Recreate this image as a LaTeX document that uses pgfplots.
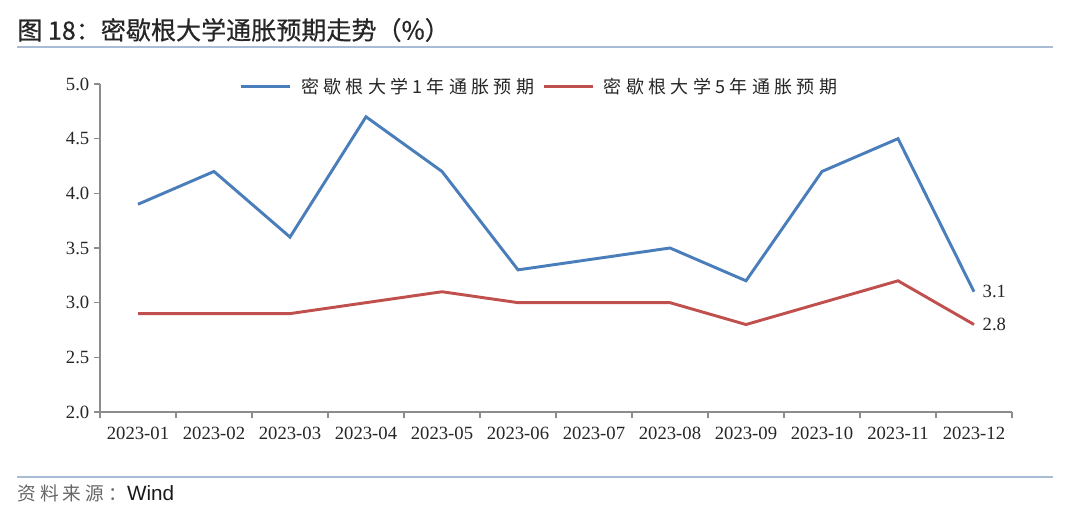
\documentclass[border=0pt]{standalone}
\usepackage{pgfplots}
\pgfplotsset{compat=1.18}
\usepackage{fontspec}
\setmainfont{Liberation Serif}
\newfontfamily\cjk{Noto Sans CJK SC}
\newfontfamily\cjktitle[FakeBold=0.6]{Noto Sans CJK SC}
\newfontfamily\cjkleg[LetterSpace=24]{Noto Sans CJK SC}
\newfontfamily\cjksrc[LetterSpace=22]{Noto Sans CJK SC}
\newfontfamily\sans{Liberation Sans}
\definecolor{myblue}{HTML}{4A7EBB}
\definecolor{myred}{HTML}{C0504D}
\definecolor{axgray}{HTML}{8C8C8C}
\definecolor{rulec}{HTML}{A9BCD6}
\begin{document}
\begin{tikzpicture}[x=0.75pt,y=0.75pt]
\path[use as bounding box] (0,0) rectangle (1069,514);
\node[anchor=west,inner sep=0pt,font=\fontsize{18.8}{21}\cjktitle,text=black!85] at (17,484) {图 18：密歇根大学通胀预期走势（\%）};
\draw[rulec, line width=1.5pt] (17,467) -- (1053,467);
\draw[rulec, line width=1pt] (17,37) -- (1053,37);
\node[anchor=west,inner sep=0pt,font=\fontsize{14}{16}\cjksrc,text=black!60] at (17,21) {资料来源：{\sans\fontsize{15.5}{17}\selectfont\color{black!90}Wind}};
\begin{axis}[at={(75pt,76.5pt)}, anchor=south west, scale only axis,
  width=684pt, height=246pt,
  xmin=-0.5, xmax=11.5, ymin=2, ymax=5,
  axis x line*=bottom, axis y line*=left,
  axis line style={axgray, line width=1.1pt},
  every tick/.style={axgray, line width=1pt},
  tick align=outside, major tick length=4.5pt, minor tick length=4.5pt,
  xtick={0,...,11},
  xticklabels={2023-01,2023-02,2023-03,2023-04,2023-05,2023-06,2023-07,2023-08,2023-09,2023-10,2023-11,2023-12},
  major x tick style={draw=none},
  minor xtick={-0.5,0.5,...,11.5},
  ytick={2,2.5,...,5},
  yticklabel style={/pgf/number format/.cd, fixed, fixed zerofill, precision=1},
  /pgf/number format/assume math mode=true,
  tick label style={font=\fontsize{14}{16}\selectfont, text=black!85},
  xticklabel style={yshift=-3pt},
  clip=false,
  legend columns=2,
  legend style={at={(0.482,0.991)}, anchor=center, draw=none, fill=none,
    font=\fontsize{13.5}{15}\cjkleg, text=black!85,
    /tikz/every even column/.append style={column sep=4pt}},
  legend image code/.code={\draw[#1] (0pt,0pt) -- (37pt,0pt);},
]
\addplot[myblue, line width=2.2pt] coordinates {
(0,3.9) (1,4.2) (2,3.6) (3,4.7) (4,4.2) (5,3.3) (6,3.4) (7,3.5) (8,3.2) (9,4.2) (10,4.5) (11,3.1)};
\addlegendentry{\hspace{5pt}密歇根大学1年通胀预期}
\addplot[myred, line width=2.2pt] coordinates {
(0,2.9) (1,2.9) (2,2.9) (3,3.0) (4,3.1) (5,3.0) (6,3.0) (7,3.0) (8,2.8) (9,3.0) (10,3.2) (11,2.8)};
\addlegendentry{\hspace{5pt}密歇根大学5年通胀预期}
\node[anchor=west, font=\fontsize{14}{16}\selectfont, text=black!85, xshift=3pt] at (axis cs:11,3.1) {3.1};
\node[anchor=west, font=\fontsize{14}{16}\selectfont, text=black!85, xshift=3pt] at (axis cs:11,2.8) {2.8};
\end{axis}
\end{tikzpicture}
\end{document}
